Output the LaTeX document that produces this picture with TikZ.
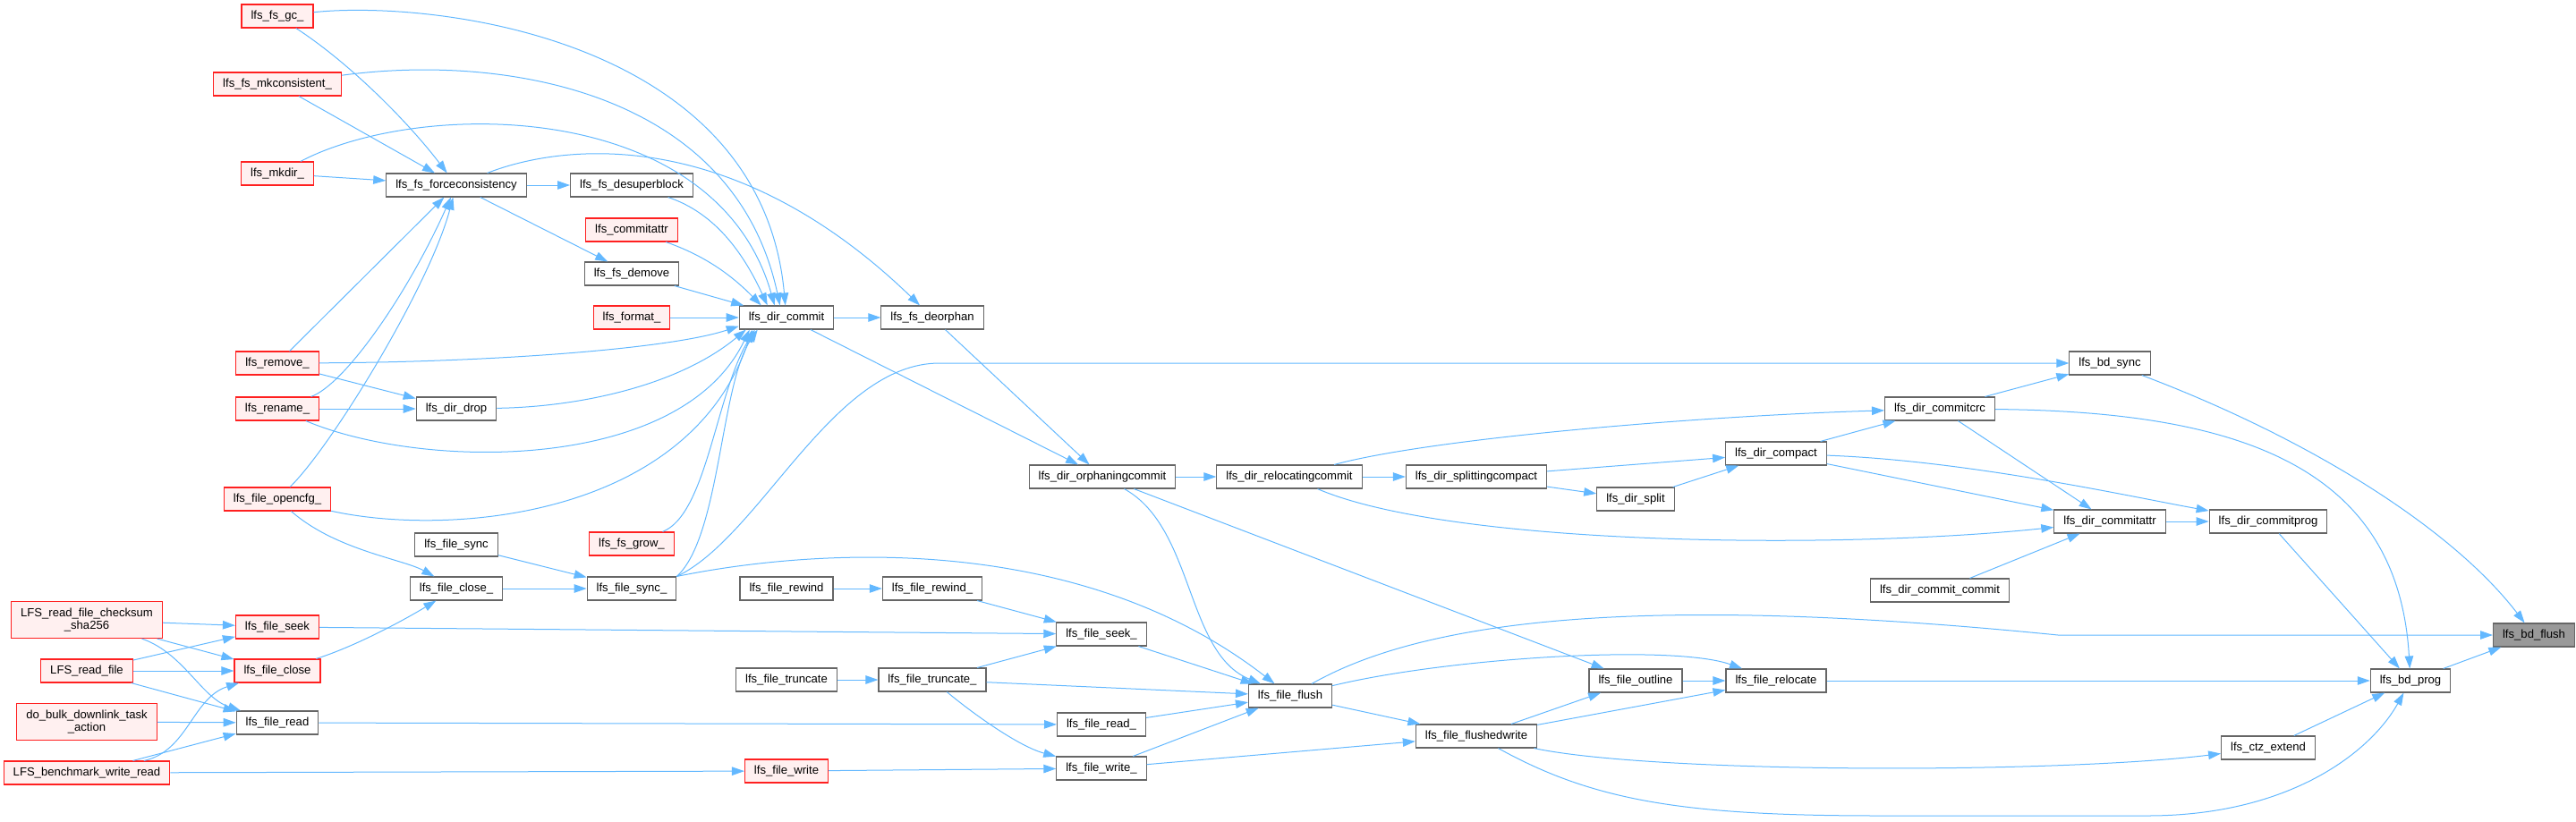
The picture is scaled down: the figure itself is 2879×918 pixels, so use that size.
\documentclass[tikz,border=0pt]{standalone}
\usepackage{fontspec}
\setmainfont{Liberation Sans}
\usepackage{tikz}
\usetikzlibrary{arrows.meta}
\definecolor{edgeblue}{HTML}{63B8FF}
\definecolor{nodegray}{HTML}{666666}
\definecolor{nodered}{HTML}{FF2020}
\definecolor{nodepink}{HTML}{FFF0F0}
\definecolor{hlgray}{HTML}{999999}
\tikzset{
  fn/.style={
    draw=nodegray, fill=white, line width=1.1pt,
    minimum height=26pt, inner xsep=10.5pt, inner ysep=0pt,
    font=\fontsize{13.1}{14.3}\selectfont
  },
  fnred/.style={fn, draw=nodered, fill=nodepink},
  fnhl/.style={fn, fill=hlgray},
  twoline/.style={align=center, minimum height=41pt},
  callarrow/.style={
    draw=edgeblue, line width=1pt,
    -{Triangle[length=14pt,width=9.5pt]}
  }
}

\begin{document}
\begin{tikzpicture}[x=1pt,y=-1pt]
  \useasboundingbox (0,0) rectangle (2879,918);

  % leftmost callers
  \node[fnred,twoline] (chk) at (97,693) {LFS\_read\_file\_checksum\\\_sha256};
  \node[fnred] (rdf) at (97,750) {LFS\_read\_file};
  \node[fnred,twoline] (bulk) at (97,807) {do\_bulk\_downlink\_task\\\_action};
  \node[fnred] (bench) at (97,864) {LFS\_benchmark\_write\_read};

  \node[fnred] (gc) at (310,18) {lfs\_fs\_gc\_};
  \node[fnred] (mkc) at (310,94) {lfs\_fs\_mkconsistent\_};
  \node[fnred] (mkdir) at (310,194) {lfs\_mkdir\_};
  \node[fnred] (remove) at (310,406) {lfs\_remove\_};
  \node[fnred] (rename) at (310,457) {lfs\_rename\_};
  \node[fnred] (opencfg) at (310,558) {lfs\_file\_opencfg\_};
  \node[fnred] (seek) at (310,701) {lfs\_file\_seek};
  \node[fnred] (close) at (310,750) {lfs\_file\_close};
  \node[fn] (read) at (310,808) {lfs\_file\_read};

  \node[fn] (force) at (510,207) {lfs\_fs\_forceconsistency};
  \node[fn] (drop) at (510,457) {lfs\_dir\_drop};
  \node[fn] (sync) at (510,609) {lfs\_file\_sync};
  \node[fn] (closei) at (510,658) {lfs\_file\_close\_};

  \node[fn] (desuper) at (706,207) {lfs\_fs\_desuperblock};
  \node[fnred] (cattr) at (706,257) {lfs\_commitattr};
  \node[fn] (demove) at (706,306) {lfs\_fs\_demove};
  \node[fnred] (format) at (706,355) {lfs\_format\_};
  \node[fnred] (grow) at (706,608) {lfs\_fs\_grow\_};
  \node[fn] (synci) at (706,658) {lfs\_file\_sync\_};

  \node[fn] (commit) at (879,355) {lfs\_dir\_commit};
  \node[fn] (rewind) at (879,658) {lfs\_file\_rewind};
  \node[fn] (trunc) at (879,760) {lfs\_file\_truncate};
  \node[fnred] (write) at (879,862) {lfs\_file\_write};

  \node[fn] (deorphan) at (1042,355) {lfs\_fs\_deorphan};
  \node[fn] (rewindi) at (1042,658) {lfs\_file\_rewind\_};
  \node[fn] (trunci) at (1042,760) {lfs\_file\_truncate\_};

  \node[fn] (orphan) at (1232,533) {lfs\_dir\_orphaningcommit};
  \node[fn] (seeki) at (1231,709) {lfs\_file\_seek\_};
  \node[fn] (readi) at (1231,810) {lfs\_file\_read\_};
  \node[fn] (writei) at (1231,859) {lfs\_file\_write\_};

  \node[fn] (reloc) at (1441,533) {lfs\_dir\_relocatingcommit};
  \node[fn] (flush) at (1442,778) {lfs\_file\_flush};
  \node[fn] (splitc) at (1650,533) {lfs\_dir\_splittingcompact};
  \node[fn] (fwrite) at (1650,823) {lfs\_file\_flushedwrite};
  \node[fn] (split) at (1828,558) {lfs\_dir\_split};
  \node[fn] (outline) at (1828,761) {lfs\_file\_outline};
  \node[fn] (compact) at (1985,507) {lfs\_dir\_compact};
  \node[fn] (freloc) at (1985,761) {lfs\_file\_relocate};
  \node[fn] (crc) at (2168,457) {lfs\_dir\_commitcrc};
  \node[fn] (ccommit) at (2168,660) {lfs\_dir\_commit\_commit};
  \node[fn] (bdsync) at (2358,406) {lfs\_bd\_sync};
  \node[fn] (attr) at (2358,583) {lfs\_dir\_commitattr};
  \node[fn] (prog) at (2535,583) {lfs\_dir\_commitprog};
  \node[fn] (ctz) at (2535,836) {lfs\_ctz\_extend};
  \node[fn] (bdprog) at (2694,761) {lfs\_bd\_prog};
  \node[fnhl] (bdflush) at (2832,710) {lfs\_bd\_flush};

  % calls from the left columns
  \draw[callarrow] (chk) -- (seek);
  \draw[callarrow] (chk) -- (close);
  \draw[callarrow] (chk) .. controls (205,730) and (225,780) .. (read);
  \draw[callarrow] (rdf) -- (seek);
  \draw[callarrow] (rdf) -- (close);
  \draw[callarrow] (rdf) -- (read);
  \draw[callarrow] (bulk) -- (read);
  \draw[callarrow] (bench) -- (read);
  \draw[callarrow] (bench) .. controls (210,840) and (215,780) .. (close);
  \draw[callarrow] (bench) -- (write);

  \draw[callarrow] (gc) .. controls (390,70) and (455,135) .. (force);
  \draw[callarrow] (mkc) -- (force);
  \draw[callarrow] (mkdir) -- (force);
  \draw[callarrow] (remove) -- (force);
  \draw[callarrow] (rename) .. controls (385,430) and (455,330) .. (force);
  \draw[callarrow] (opencfg) .. controls (370,500) and (480,320) .. (force);
  \draw[callarrow] (remove) -- (drop);
  \draw[callarrow] (rename) -- (drop);
  \draw[callarrow] (opencfg) .. controls (375,615) and (450,625) .. (closei);
  \draw[callarrow] (close) .. controls (390,725) and (440,700) .. (closei);
  \draw[callarrow] (seek) -- (seeki);
  \draw[callarrow] (read) -- (readi);

  % everything that ends in lfs_dir_commit
  \draw[callarrow] (gc) .. controls (480,0) and (850,40) .. ([xshift=52pt]commit.north west);
  \draw[callarrow] (mkc) .. controls (560,60) and (820,100) .. ([xshift=46pt]commit.north west);
  \draw[callarrow] (mkdir) .. controls (470,110) and (800,110) .. ([xshift=40pt]commit.north west);
  \draw[callarrow] (desuper) .. controls (790,235) and (825,270) .. ([xshift=32pt]commit.north west);
  \draw[callarrow] (cattr) .. controls (785,285) and (815,305) .. ([xshift=25pt]commit.north west);
  \draw[callarrow] (demove) -- (commit);
  \draw[callarrow] (format) -- (commit);
  \draw[callarrow] (remove) .. controls (550,405) and (750,390) .. ([yshift=4pt]commit.south west);
  \draw[callarrow] (drop) .. controls (650,455) and (760,430) .. ([xshift=8pt]commit.south west);
  \draw[callarrow] (rename) .. controls (470,525) and (760,530) .. ([xshift=12pt]commit.south west);
  \draw[callarrow] (opencfg) .. controls (500,600) and (770,580) .. ([xshift=15pt]commit.south west);
  \draw[callarrow] (grow) .. controls (790,575) and (800,440) .. ([xshift=18pt]commit.south west);
  \draw[callarrow] (synci.north east) .. controls (805,600) and (805,430) .. ([xshift=21pt]commit.south west);

  \draw[callarrow] (force) -- (desuper);
  \draw[callarrow] (force) -- (demove);
  \draw[callarrow] (force) .. controls (630,160) and (820,140) .. (deorphan);
  \draw[callarrow] (sync) -- (synci);
  \draw[callarrow] (closei) -- (synci);
  \draw[callarrow] (synci.north east) .. controls (850,600) and (930,406) .. (1050,406) -- (bdsync);
  \draw[callarrow] (synci.north east) .. controls (900,615) and (1200,590) .. (flush);

  \draw[callarrow] (commit) -- (deorphan);
  \draw[callarrow] (commit) -- (orphan);
  \draw[callarrow] (deorphan) -- (orphan);
  \draw[callarrow] (rewind) -- (rewindi);
  \draw[callarrow] (rewindi) -- (seeki);
  \draw[callarrow] (trunc) -- (trunci);
  \draw[callarrow] (trunci) -- (seeki);
  \draw[callarrow] (trunci) -- (flush);
  \draw[callarrow] (trunci) .. controls (1090,800) and (1140,835) .. (writei);
  \draw[callarrow] (write) -- (writei);

  \draw[callarrow] (seeki) -- (flush);
  \draw[callarrow] (readi) -- (flush);
  \draw[callarrow] (writei) -- (flush);
  \draw[callarrow] (writei) -- (fwrite);
  \draw[callarrow] (orphan) -- (reloc);
  \draw[callarrow] (orphan) .. controls (1335,590) and (1325,730) .. (flush);
  \draw[callarrow] (orphan) -- (outline);

  % right half
  \draw[callarrow] (reloc) -- (splitc);
  \draw[callarrow] (reloc) .. controls (1600,490) and (1900,465) .. (crc);
  \draw[callarrow] (reloc) .. controls (1620,610) and (2050,615) .. (attr);
  \draw[callarrow] (splitc) -- (compact);
  \draw[callarrow] (splitc) -- (split);
  \draw[callarrow] (split) -- (compact);
  \draw[callarrow] (compact) -- (crc);
  \draw[callarrow] (compact) -- (attr);
  \draw[callarrow] (compact) .. controls (2200,515) and (2380,555) .. (prog);
  \draw[callarrow] (flush) -- (fwrite);
  \draw[callarrow] (flush) .. controls (1620,735) and (1870,720) .. (freloc);
  \draw[callarrow] (flush) .. controls (1580,700) and (1800,660) .. (2300,710) -- (bdflush);
  \draw[callarrow] (fwrite) -- (outline);
  \draw[callarrow] (fwrite) -- (freloc);
  \draw[callarrow] (fwrite) .. controls (1850,865) and (2300,865) .. (ctz);
  \draw[callarrow] (fwrite) .. controls (1780,895) and (1880,912) .. (2100,912) -- (2400,912)
    .. controls (2560,912) and (2650,840) .. (bdprog);
  \draw[callarrow] (outline) -- (freloc);
  \draw[callarrow] (freloc) -- (bdprog);
  \draw[callarrow] (crc) -- (bdsync);
  \draw[callarrow] (crc) -- (attr);
  \draw[callarrow] (crc) .. controls (2500,460) and (2680,520) .. (bdprog);
  \draw[callarrow] (attr) -- (prog);
  \draw[callarrow] (ccommit) -- (attr);
  \draw[callarrow] (prog) -- (bdprog);
  \draw[callarrow] (ctz) -- (bdprog);
  \draw[callarrow] (bdsync) .. controls (2580,490) and (2740,590) .. (bdflush);
  \draw[callarrow] (bdprog) -- (bdflush);
\end{tikzpicture}
\end{document}
